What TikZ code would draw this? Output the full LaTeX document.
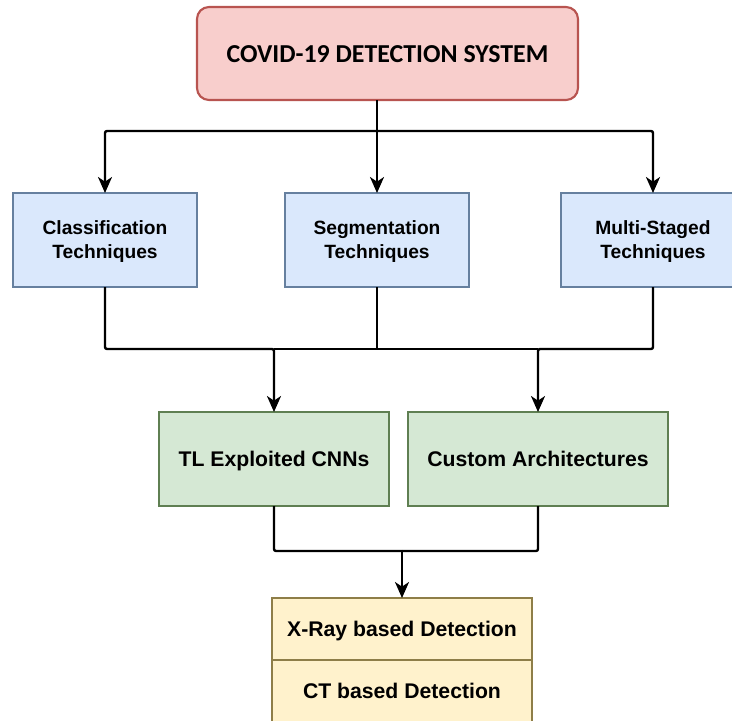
\documentclass[tikz,border=0pt]{standalone}
\usepackage{fontspec}
\newfontfamily\carlitofont{Carlito}
\newfontfamily\arialfont{Liberation Sans}
\usetikzlibrary{arrows.meta,calc}
\definecolor{redfill}{HTML}{F8CECC}
\definecolor{reddraw}{HTML}{B85450}
\definecolor{bluefill}{HTML}{DAE8FC}
\definecolor{bluedraw}{HTML}{66809F}
\definecolor{greenfill}{HTML}{D5E8D4}
\definecolor{greendraw}{HTML}{5F7F52}
\definecolor{yellowfill}{HTML}{FFF2CC}
\definecolor{yellowdraw}{HTML}{8E7E48}
\tikzset{
  box/.style={rectangle, line width=1.6pt, inner sep=0pt, outer sep=0pt, align=center, text=black, text depth=0pt},
  topbox/.style={box, rounded corners=9pt, fill=redfill, draw=reddraw,
    minimum width=381*0.75pt, minimum height=93*0.75pt,
    font=\carlitofont\bfseries\fontsize{19.4}{23}\selectfont},
  bluebox/.style={box, fill=bluefill, draw=bluedraw,
    minimum width=184*0.75pt, minimum height=94*0.75pt,
    font=\arialfont\bfseries\fontsize{14.4}{18}\selectfont},
  greenbox/.style={box, fill=greenfill, draw=greendraw,
    minimum height=94*0.75pt,
    font=\arialfont\bfseries\fontsize{15.9}{19}\selectfont},
  yellowbox/.style={box, fill=yellowfill, draw=yellowdraw,
    minimum width=260*0.75pt, minimum height=62*0.75pt,
    font=\arialfont\bfseries\fontsize{15.9}{19}\selectfont},
  conn/.style={line width=1.8pt, draw=black, rounded corners=1.5pt},
  arr/.style={conn, -{Stealth[length=12pt, width=10.5pt, inset=3.5pt]}}
}
\begin{document}
\begin{tikzpicture}[x=0.75pt, y=-0.75pt]
\useasboundingbox (0,0) rectangle (732,721);
% nodes
\node[topbox] (top) at (387.5,53.5) {\raisebox{-1pt}{COVID-19 DETECTION SYSTEM}};
\node[bluebox] (cls) at (105,240) {Classification\\Techniques};
\node[bluebox] (seg) at (377,240) {Segmentation\\Techniques};
\node[bluebox] (mul) at (653,240) {Multi-Staged\\Techniques};
\node[greenbox, minimum width=230*0.75pt] (tl) at (274,459) {TL Exploited CNNs};
\node[greenbox, minimum width=260*0.75pt] (cu) at (538,459) {Custom Architectures};
\node[yellowbox] (xr) at (402,629) {X-Ray based Detection};
\node[yellowbox] (ct) at (402,691) {CT based Detection};
% junction coordinates
\coordinate (h1) at (0,131);
\coordinate (h2) at (0,349);
\coordinate (h3) at (0,551);
% top to blue
\draw[arr] (top.south -| seg.north) -- (seg.north);
\draw[arr] (h1 -| seg.north) -| (cls.north);
\draw[arr] (h1 -| seg.north) -| (mul.north);
% blue to green
\draw[conn] (seg.south) -- (h2 -| seg.south);
\draw[arr] (cls.south) |- (h2 -| tl.north) -- (tl.north);
\draw[arr] (mul.south) |- (h2 -| cu.north) -- (cu.north);
\draw[conn] (h2 -| tl.north) -- (h2 -| cu.north);
% green to yellow
\draw[conn] (tl.south) |- (h3 -| xr.north);
\draw[conn] (cu.south) |- (h3 -| xr.north);
\draw[arr] (h3 -| xr.north) -- (xr.north);
\end{tikzpicture}
\end{document}
